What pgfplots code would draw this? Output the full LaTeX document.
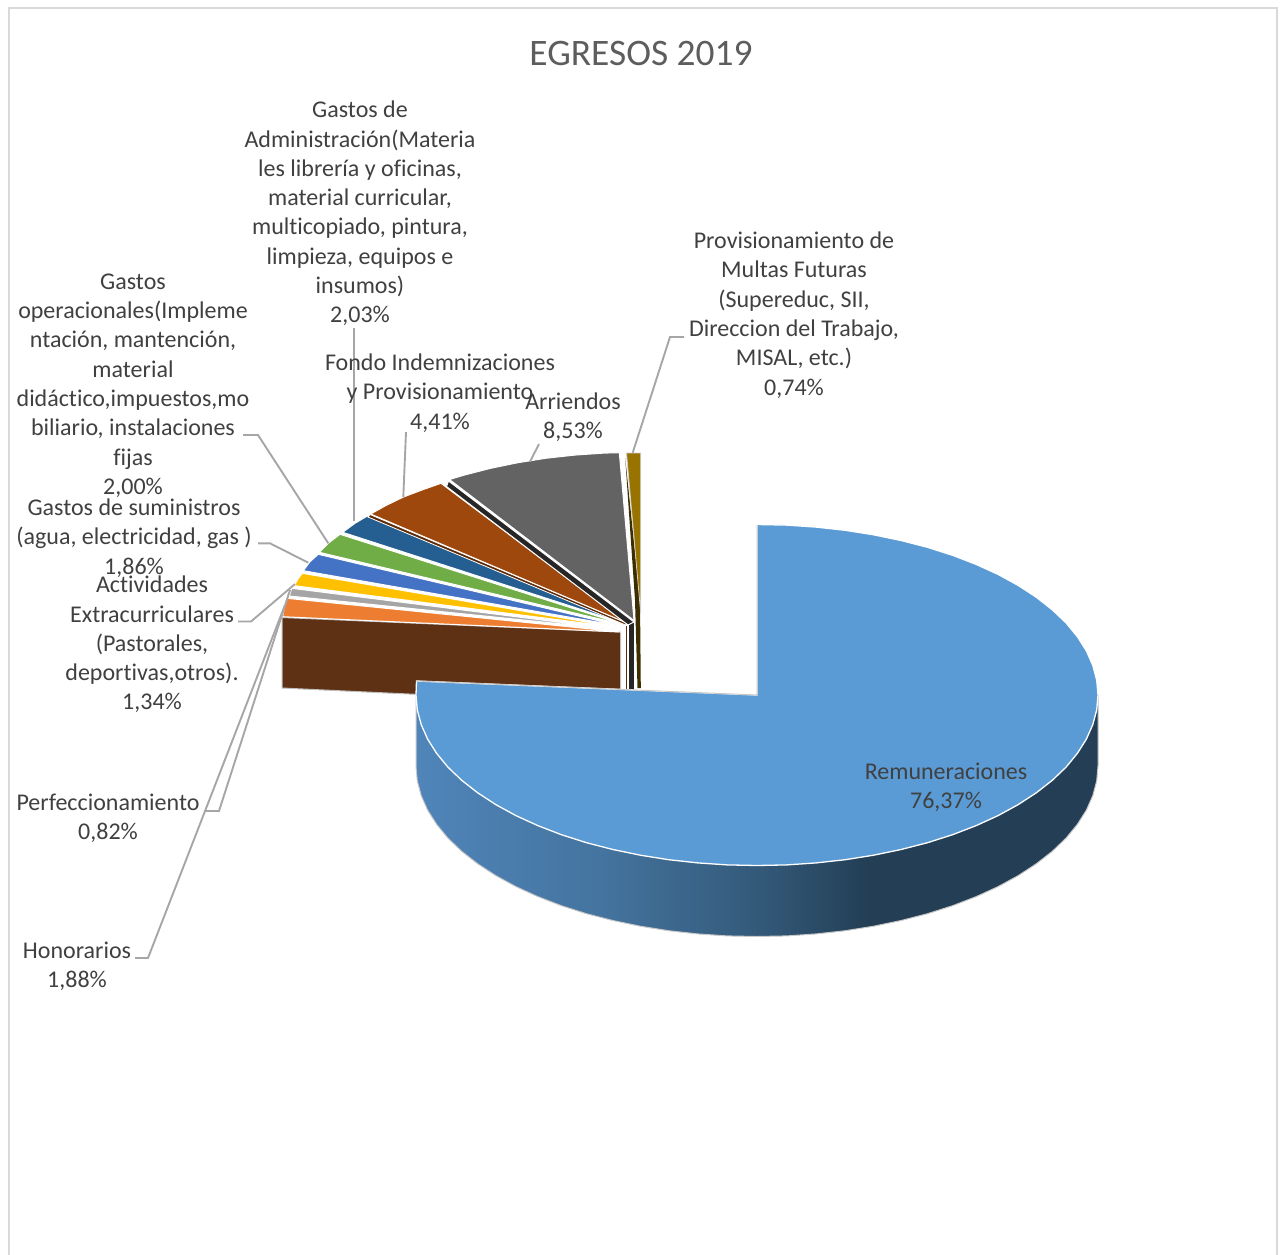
\documentclass[border=0pt]{standalone}
\usepackage{fontspec}
\setmainfont[Ligatures=NoCommon]{Carlito}
\usepackage{pgfplots}
\pgfplotsset{compat=1.18}

\definecolor{remun}{HTML}{5B9BD5}
\definecolor{hono}{HTML}{ED7D31}
\definecolor{perf}{HTML}{A5A5A5}
\definecolor{activ}{HTML}{FFC000}
\definecolor{sumin}{HTML}{4472C4}
\definecolor{oper}{HTML}{70AD47}
\definecolor{admin}{HTML}{255E91}
\definecolor{fondo}{HTML}{9E480E}
\definecolor{arri}{HTML}{636363}
\definecolor{multas}{HTML}{997300}
\definecolor{brownwall}{HTML}{5F3114}
\definecolor{blackwall}{HTML}{262626}
\definecolor{goldwall}{HTML}{3D2E00}
\definecolor{rustwall}{HTML}{5E2B08}
\definecolor{leader}{HTML}{A6A6A6}
\definecolor{lbl}{HTML}{404040}
\definecolor{wallA}{HTML}{5085BA}
\definecolor{wallB}{HTML}{44749F}
\definecolor{wallC}{HTML}{335979}
\definecolor{wallD}{HTML}{233E55}

\pgfdeclarehorizontalshading{wall}{100bp}{color(0bp)=(wallA); color(25bp)=(wallA); color(38.5bp)=(wallB); color(50.2bp)=(wallC); color(58.3bp)=(wallD); color(100bp)=(wallD)}

\pgfplotsset{
  slice/.style={fill=#1, draw=white, line width=1pt, line join=round},
  lead/.style={draw=leader, line width=1.9pt},
}
\tikzset{
  lab/.style={text=lbl, align=center, font=\fontsize{24}{29.3}\selectfont, inner sep=0pt, anchor=center},
}

\begin{document}
\begin{tikzpicture}
\useasboundingbox (0,0) rectangle (1282pt,1255pt);
\begin{axis}[
  scale only axis, width=1282pt, height=1255pt,
  xmin=0, xmax=1282, ymin=0, ymax=1255, y dir=reverse,
  hide axis, clip=false]

% chart frame
\addplot[draw=black!15, line width=2pt] coordinates {(8.5,1255) (8.5,8) (1277,8) (1277,1255)};

% cut faces behind the small slices
\addplot[fill=brownwall, draw=black!25, line width=1pt] coordinates {(282,617.5) (620.7,632) (620.7,704) (282,688)} -- cycle;
\addplot[draw=rustwall, line width=1.2pt] coordinates {(626.3,626) (626.3,689)};
\addplot[fill=blackwall, draw=none] coordinates {(629,622.5) (634.3,622.5) (634.3,689.5) (629,689.5)} -- cycle;

% small slices, one for each remaining item
\addplot[slice=hono] coordinates {(620.7,632) (282.7,616.7) (284.3,606.7) (286.7,598.3)} -- cycle;
\addplot[slice=perf] coordinates {(621,630) (289.3,596) (291.7,588.3)} -- cycle;
\addplot[slice=activ] coordinates {(622,628) (294.3,585.7) (297.7,579.3) (302.3,573.3)} -- cycle;
\addplot[slice=sumin] coordinates {(623,626.5) (303.3,570.7) (310,561.7) (318.3,554.3)} -- cycle;
\addplot[slice=oper] coordinates {(625,625) (319.3,552.3) (329,542.7) (340,534.3)} -- cycle;
\addplot[slice=admin] coordinates {(626,624) (342.7,532.3) (355,523.3) (367.3,516)} -- cycle;
\addplot[fill=rustwall, draw=white, line width=0.8pt] coordinates {(625.5,625) (368,517) (370,514.5) (627,623)} -- cycle;
\addplot[slice=fondo] coordinates {(627,623) (370.7,514) (386,505.5) (403.5,497) (422,490) (441,483.3)} -- cycle;
\addplot[fill=blackwall, draw=white, line width=1pt] coordinates {(628,625) (446.5,486.5) (448.5,481) (634,622)} -- cycle;
\addplot[slice=arri] coordinates {(634,620.5) (449.5,479.5) (463.5,475.3) (489.9,468.5) (517.4,462.8) (545.7,458.3) (574.8,455.1) (604.3,453.1) (619.3,452.7)} -- cycle;
\addplot[fill=goldwall, draw=none] coordinates {(625.2,458) (640,600) (640.8,688) (637.5,688) (635,600)} -- cycle;
\addplot[fill=multas, draw=black!18, line width=0.8pt] coordinates {(626.5,453) (640.7,453) (640.7,613)} -- cycle;

% big slice: outer wall
\addplot[draw=black!22, line width=1pt, shading=wall] coordinates {
 (1098,695) (1098,766) (1096.7,780.9) (1092.8,795.6) (1086.4,810.1) (1077.4,824.3) (1066.1,838.1)
 (1052.3,851.3) (1036.3,863.8) (1018.2,875.6) (998.1,886.6) (976.2,896.6) (952.6,905.7)
 (927.5,913.7) (901.1,920.5) (873.6,926.2) (845.3,930.7) (816.2,933.9) (786.7,935.9)
 (757,936.5) (727.3,935.9) (697.8,933.9) (668.7,930.7) (640.4,926.2) (612.9,920.5)
 (586.5,913.7) (561.4,905.7) (537.8,896.6) (515.9,886.6) (495.8,875.6) (477.7,863.8)
 (461.7,851.3) (447.9,838.1) (436.6,824.3) (427.6,810.1) (421.2,795.6) (417.3,780.9) (416,766) (416,695)} -- cycle;

% big slice: top face
\addplot[fill=remun, draw=white, line width=1.3pt, line join=round] coordinates {
 (757,695) (757,524.5) (786.7,525.1) (816.2,527.1) (845.3,530.3) (873.6,534.8) (901.1,540.5)
 (927.5,547.3) (952.6,555.3) (976.2,564.4) (998.1,574.4) (1018.2,585.4) (1036.3,597.2)
 (1052.3,609.8) (1066.1,622.9) (1077.4,636.7) (1086.4,650.9) (1092.8,665.4) (1096.7,680.1)
 (1098,695) (1096.7,709.9) (1092.8,724.6) (1086.4,739.1) (1077.4,753.3) (1066.1,767.1)
 (1052.3,780.3) (1036.3,792.8) (1018.2,804.6) (998.1,815.6) (976.2,825.6) (952.6,834.7)
 (927.5,842.7) (901.1,849.5) (873.6,855.2) (845.3,859.7) (816.2,862.9) (786.7,864.9)
 (757,865.5) (727.3,864.9) (697.8,862.9) (668.7,859.7) (640.4,855.2) (612.9,849.5)
 (586.5,842.7) (561.4,834.7) (537.8,825.6) (515.9,815.6) (495.8,804.6) (477.7,792.8)
 (461.7,780.3) (447.9,767.1) (436.6,753.3) (427.6,739.1) (421.2,724.6) (417.3,709.9)
 (416,695) (416.5,681)} -- cycle;
\addplot[draw=black!22, line width=1pt] coordinates {(416.5,681) (757,695) (757,525)};

% leader lines
\addplot[lead] coordinates {(354.4,328) (354.4,521)};
\addplot[lead] coordinates {(406,432) (403.3,497)};
\addplot[lead] coordinates {(539,444) (530,461.7)};
\addplot[lead] coordinates {(684,337) (670,337) (632.7,452.7)};
\addplot[lead] coordinates {(243,435) (258,435) (328.3,543.3)};
\addplot[lead] coordinates {(258,543.3) (270,543.3) (308.3,562.7)};
\addplot[lead] coordinates {(238,621.5) (251,621.5) (295,584)};
\addplot[lead] coordinates {(205,811) (219,811) (290,590)};
\addplot[lead] coordinates {(135,958) (148,958) (285,605)};

% texts
\node[lab, font=\fontsize{37.4}{44}\selectfont, text=lbl!85] at (axis cs:641,53) {EGRESOS 2019};
\node[lab] at (axis cs:360,213.5) {Gastos de\\Administración(Materia\\les librería y oficinas,\\material curricular,\\multicopiado, pintura,\\limpieza, equipos e\\insumos)\\2,03\%};
\node[lab] at (axis cs:794,315) {Provisionamiento de\\Multas Futuras\\(Supereduc, SII,\\Direccion del Trabajo,\\MISAL, etc.)\\0,74\%};
\node[lab] at (axis cs:133,385.5) {Gastos\\operacionales(Impleme\\ntación, mantención,\\material\\didáctico,impuestos,mo\\biliario, instalaciones\\fijas\\2,00\%};
\node[lab] at (axis cs:440,393) {Fondo Indemnizaciones\\y Provisionamiento\\4,41\%};
\node[lab] at (axis cs:573,417.5) {Arriendos\\8,53\%};
\node[lab] at (axis cs:134,538) {Gastos de suministros\\(agua, electricidad, gas )\\1,86\%};
\node[lab] at (axis cs:152,644.5) {Actividades\\Extracurriculares\\(Pastorales,\\deportivas,otros).\\1,34\%};
\node[lab] at (axis cs:108,818) {Perfeccionamiento\\0,82\%};
\node[lab] at (axis cs:77,966) {Honorarios\\1,88\%};
\node[lab] at (axis cs:946,787.5) {Remuneraciones\\76,37\%};
\end{axis}
\end{tikzpicture}
\end{document}
